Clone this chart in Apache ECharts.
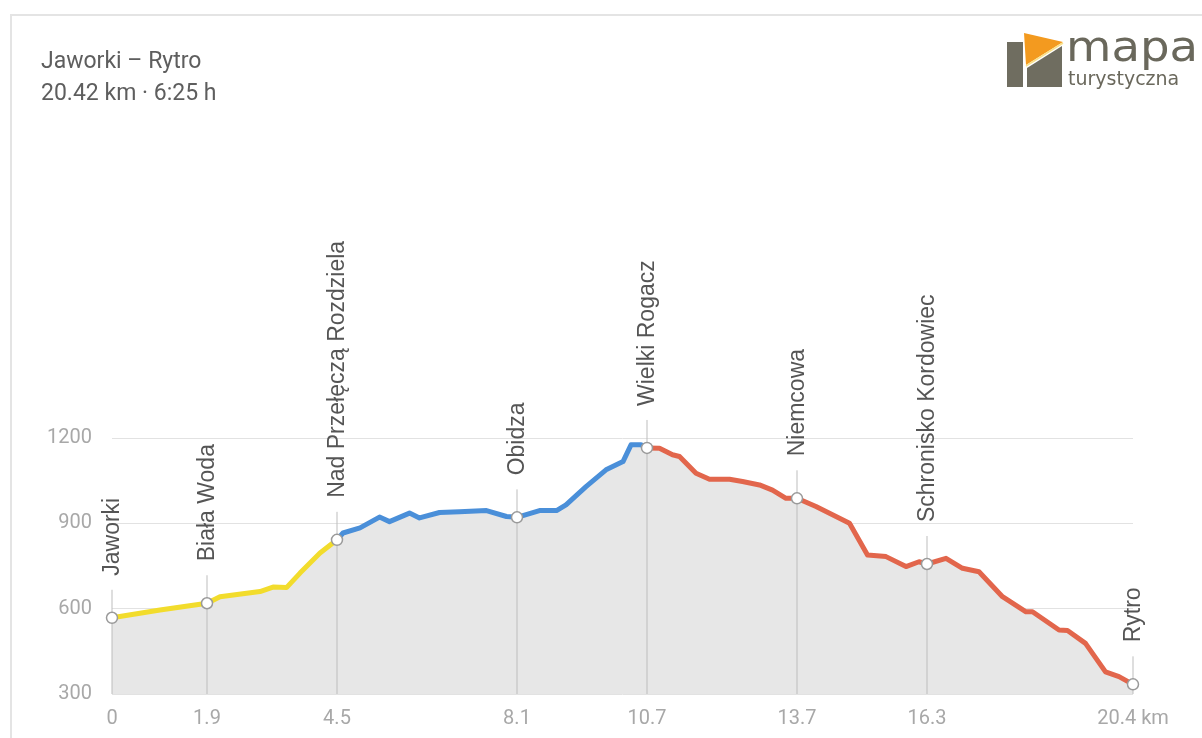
<!DOCTYPE html>
<html>
<head>
<meta charset="utf-8">
<script src="https://cdn.jsdelivr.net/npm/echarts@6/dist/echarts.min.js"></script>
<style>
  html, body { margin: 0; padding: 0; background: #fff; overflow: hidden; }
  #card { position: absolute; left: 10px; top: 14px; width: 1400px; height: 1000px; border: 2px solid #e4e4e4; box-sizing: border-box; }
  #chart { position: absolute; left: 0; top: 0; width: 1202px; height: 738px; }
</style>
</head>
<body>
<div id="card"></div>
<div id="chart"></div>
<script>
// ---- data ----
const profileKm   = [0, 0.96, 1.9, 2.16, 2.96, 3.22, 3.49, 3.76, 4.16, 4.5, 4.62, 4.96, 5.35, 5.55, 5.95, 6.15, 6.55, 6.95, 7.49, 7.89, 8.1, 8.55, 8.89, 9.08, 9.48, 9.88, 10.22, 10.38, 10.58, 10.7, 10.95, 11.21, 11.35, 11.68, 11.95, 12.35, 12.61, 12.95, 13.21, 13.48, 13.7, 14.08, 14.55, 14.75, 15.11, 15.48, 15.88, 16.14, 16.3, 16.68, 17.01, 17.34, 17.81, 18.28, 18.41, 18.94, 19.11, 19.47, 19.87, 20.14, 20.42];
const profileElev = [568, 595, 619, 642, 660, 676, 674, 725, 796, 842, 866, 884, 922, 906, 936, 919, 938, 941, 945, 924, 921, 945, 945, 965, 1029, 1088, 1117, 1176, 1176, 1165, 1164, 1141, 1135, 1076, 1055, 1055, 1047, 1035, 1017, 988, 988, 959, 918, 900, 789, 783, 748, 765, 757, 777, 742, 730, 642, 589, 589, 525, 523, 478, 378, 361, 334];

const waypointNames = ['Jaworki', 'Biała Woda', 'Nad Przełęczą Rozdziela', 'Obidza', 'Wielki Rogacz', 'Niemcowa', 'Schronisko Kordowiec', 'Rytro'];
const waypointKm    = [0, 1.9, 4.5, 8.1, 10.7, 13.7, 16.3, 20.42];
const waypointElev  = [568, 619, 842, 921, 1165, 988, 757, 334];

const tickKm     = [0, 1.9, 4.5, 8.1, 10.7, 13.7, 16.3, 20.42];
const tickLabels = ['0', '1.9', '4.5', '8.1', '10.7', '13.7', '16.3', '20.4 km'];

const segmentBreaks = [4.5, 10.7]; // yellow | blue | red
const segmentColors = ['#f2dc2c', '#4a8fd9', '#e2664c'];

const titleLines = ['Jaworki – Rytro', '20.42 km · 6:25 h'];

// ---- build ----
const profile = profileKm.map((k, i) => [k, profileElev[i]]);
const seg = (lo, hi) => profile.filter(p => p[0] >= lo && p[0] <= hi);
const segments = [
  seg(-Infinity, segmentBreaks[0]),
  seg(segmentBreaks[0], segmentBreaks[1]),
  seg(segmentBreaks[1], Infinity)
];
const waypoints = waypointKm.map((k, i) => [k, waypointElev[i], waypointNames[i]]);

const chart = echarts.init(document.getElementById('chart'));

const lineSeries = segments.map((d, i) => ({
  type: 'line', data: d, showSymbol: false, symbol: 'none', smooth: false,
  lineStyle: { color: segmentColors[i], width: 5, cap: 'round', join: 'round' },
  z: 4, silent: true
}));

chart.setOption({
  animation: false,
  title: {
    text: titleLines.join('\n'), left: 36, top: 41,
    textStyle: { fontFamily: 'Roboto', fontSize: 23, fontWeight: 'normal', color: '#5e5e5e', lineHeight: 32 }
  },
  grid: { left: 112, right: 69, top: 438, bottom: 44 },
  xAxis: {
    type: 'value', min: 0, max: 20.42,
    axisLine: { show: false }, axisTick: { show: false }, splitLine: { show: false },
    axisLabel: {
      customValues: tickKm,
      formatter: function (v) {
        let best = 0;
        tickKm.forEach((t, i) => { if (Math.abs(t - v) < Math.abs(tickKm[best] - v)) best = i; });
        return tickLabels[best];
      },
      fontFamily: 'Roboto', fontSize: 20, color: '#a8a8a8', margin: 15
    }
  },
  yAxis: {
    type: 'value', min: 300, max: 1200, interval: 300,
    axisLine: { show: false }, axisTick: { show: false },
    splitLine: { lineStyle: { color: '#e2e2e2', width: 1 } },
    axisLabel: { fontFamily: 'Roboto', fontSize: 20, color: '#a8a8a8', margin: 20, formatter: v => String(v) }
  },
  graphic: [
    { type: 'rect', shape: { x: 1007, y: 42, width: 16, height: 45 }, style: { fill: '#6f6d60' } },
    { type: 'polygon', shape: { points: [[1027, 68], [1062, 46], [1062, 87], [1027, 87]] }, style: { fill: '#6f6d60' } },
    { type: 'polygon', shape: { points: [[1024, 33], [1063, 42], [1026, 65]] }, style: { fill: '#f39a1f' } },
    { type: 'polyline', shape: { points: [[1026, 66], [1063, 43]] }, style: { stroke: '#f8e08a', lineWidth: 1.5 } },
    { type: 'text', x: 1066, y: 50, scaleX: 1.11, style: { text: 'mapa', font: 'normal 42px "DejaVu Sans"', fill: '#6a685c', textVerticalAlign: 'middle' } },
    { type: 'text', x: 1068, y: 80, style: { text: 'turystyczna', font: 'normal 19px "DejaVu Sans"', fill: '#6a685c', textVerticalAlign: 'middle' } }
  ],
  series: [
    {
      type: 'line', data: profile, showSymbol: false, symbol: 'none',
      lineStyle: { width: 0 }, areaStyle: { color: '#e7e7e7', opacity: 1, origin: 'start' },
      z: 1, silent: true
    },
    {
      type: 'custom', data: waypoints, clip: false, z: 3, silent: true,
      renderItem: function (params, api) {
        const p = api.coord([api.value(0), api.value(1)]);
        const base = api.coord([api.value(0), 300]);
        return {
          type: 'group', children: [
            { type: 'line', shape: { x1: p[0], y1: base[1], x2: p[0], y2: p[1] - 28 }, style: { stroke: '#bdbdbd', lineWidth: 1 } },
            { type: 'text', x: p[0] + 1, y: p[1] - 42, rotation: Math.PI / 2,
              style: { text: waypoints[params.dataIndex][2], font: '23px "Liberation Sans", Arial', fill: '#555', textAlign: 'left', textVerticalAlign: 'middle' } }
          ]
        };
      }
    },
    ...lineSeries,
    {
      type: 'custom', data: waypoints, clip: false, z: 5, silent: true,
      renderItem: function (params, api) {
        const p = api.coord([api.value(0), api.value(1)]);
        return { type: 'circle', shape: { cx: p[0], cy: p[1], r: 5.5 }, style: { fill: '#fff', stroke: '#9a9a9a', lineWidth: 1.5 } };
      }
    }
  ]
});
</script>
</body>
</html>
